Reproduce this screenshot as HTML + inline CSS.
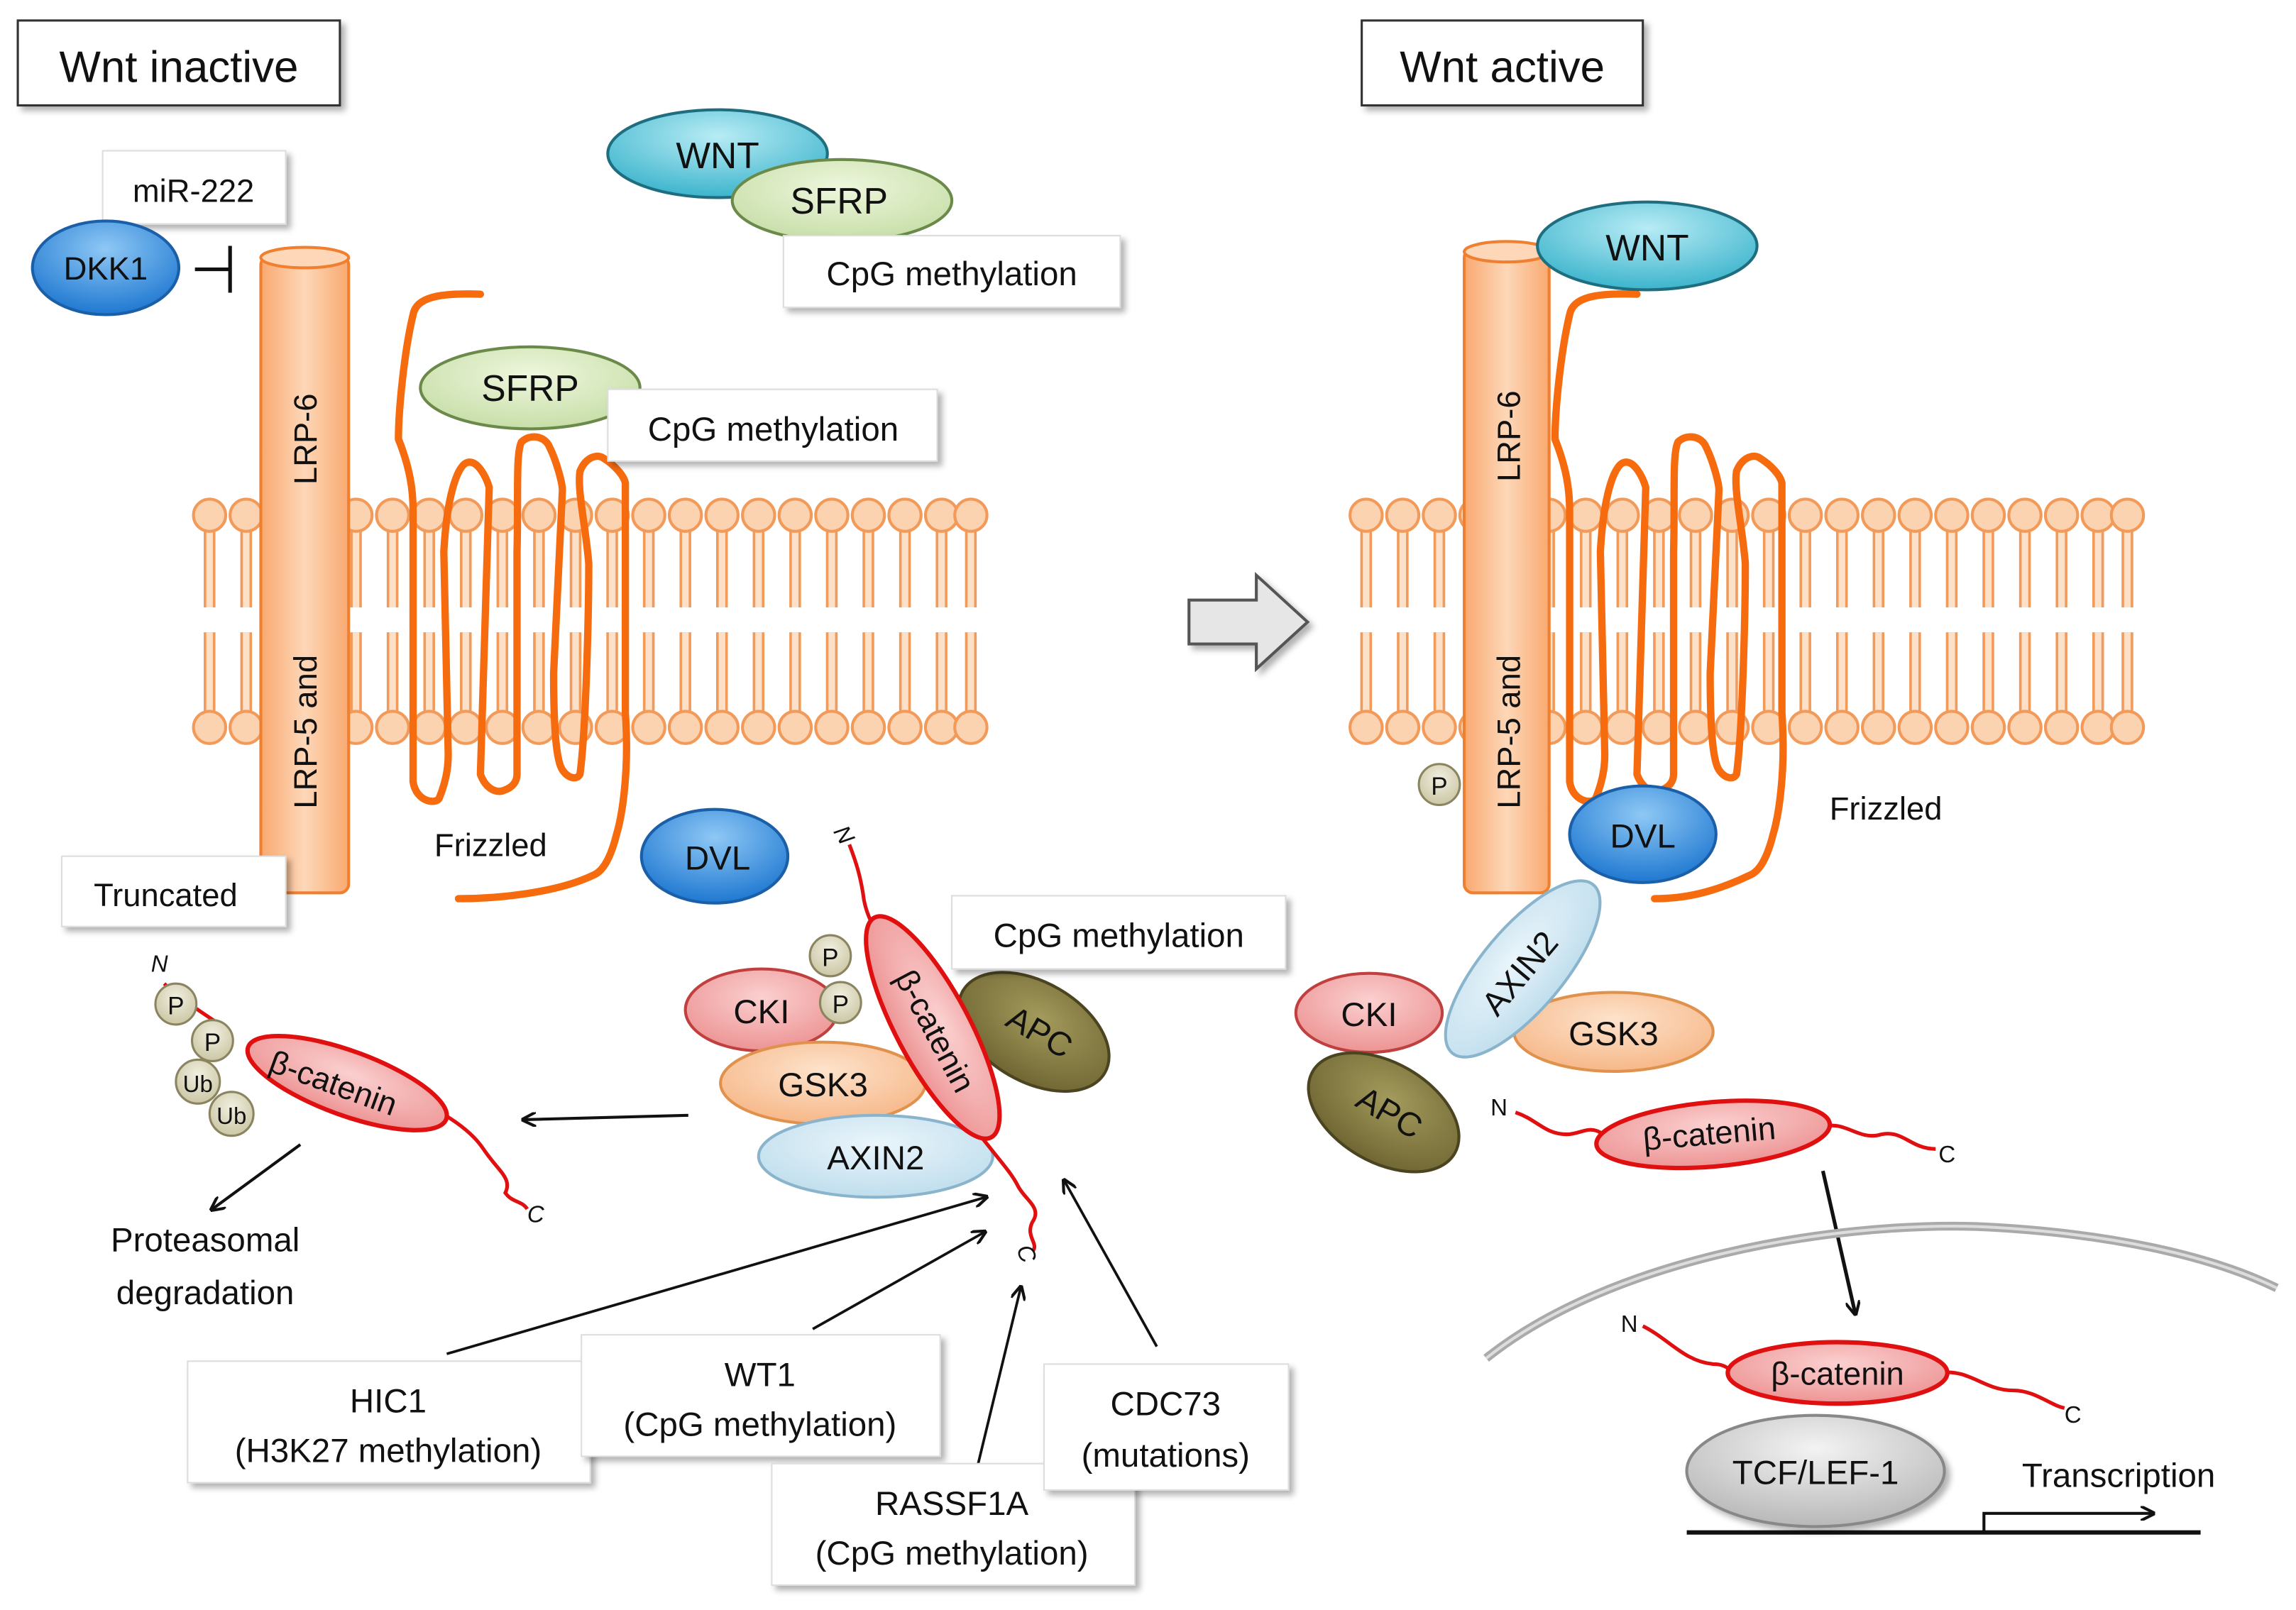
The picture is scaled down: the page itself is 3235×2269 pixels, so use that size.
<!DOCTYPE html>
<html><head><meta charset="utf-8">
<style>
html,body{margin:0;padding:0;background:#fff;}
svg{display:block;}
text{font-family:"Liberation Sans",sans-serif;fill:#111;}
</style></head>
<body>
<svg width="3235" height="2269" viewBox="0 0 1568 1100" xmlns="http://www.w3.org/2000/svg">
<defs>
<radialGradient id="gBlue" cx="50%" cy="30%" r="70%"><stop offset="0" stop-color="#8ec8f5"/><stop offset="1" stop-color="#1f78d1"/></radialGradient>
<radialGradient id="gTeal" cx="50%" cy="30%" r="70%"><stop offset="0" stop-color="#b8ecf5"/><stop offset="1" stop-color="#3cb4cc"/></radialGradient>
<radialGradient id="gGreen" cx="50%" cy="35%" r="70%"><stop offset="0" stop-color="#eef7dd"/><stop offset="1" stop-color="#c4dca4"/></radialGradient>
<radialGradient id="gPink" cx="50%" cy="35%" r="70%"><stop offset="0" stop-color="#fbd0d0"/><stop offset="1" stop-color="#ec8f8f"/></radialGradient>
<radialGradient id="gOr" cx="50%" cy="35%" r="70%"><stop offset="0" stop-color="#fde3cc"/><stop offset="1" stop-color="#f6b483"/></radialGradient>
<radialGradient id="gLb" cx="50%" cy="35%" r="70%"><stop offset="0" stop-color="#eaf5fb"/><stop offset="1" stop-color="#bcdcec"/></radialGradient>
<radialGradient id="gOl" cx="50%" cy="35%" r="70%"><stop offset="0" stop-color="#a39a5c"/><stop offset="1" stop-color="#6b6230"/></radialGradient>
<radialGradient id="gGr" cx="50%" cy="30%" r="70%"><stop offset="0" stop-color="#f3f3f3"/><stop offset="1" stop-color="#b8b8b8"/></radialGradient>
<radialGradient id="gP" cx="50%" cy="35%" r="70%"><stop offset="0" stop-color="#f1efe0"/><stop offset="1" stop-color="#c8c3a0"/></radialGradient>
<linearGradient id="gCyl" x1="0" x2="1"><stop offset="0" stop-color="#f9a970"/><stop offset="0.5" stop-color="#fdd7b8"/><stop offset="1" stop-color="#f9a970"/></linearGradient>
<filter id="sh" x="-10%" y="-10%" width="130%" height="140%"><feDropShadow dx="3" dy="3" stdDeviation="2" flood-color="#000" flood-opacity="0.3"/></filter>
<marker id="ar" markerWidth="10" markerHeight="10" refX="8" refY="5" orient="auto" markerUnits="userSpaceOnUse"><path d="M0,0 L10,5 L0,10" fill="none" stroke="#111" stroke-width="2"/></marker>
<g id="mem">
  <g id="lip">
    <line x1="0" y1="352" x2="0" y2="415" stroke="#f29a5a" stroke-width="8"/>
    <line x1="0" y1="352" x2="0" y2="415" stroke="#fde0c8" stroke-width="4.5"/>
    <line x1="0" y1="432" x2="0" y2="497" stroke="#f29a5a" stroke-width="8"/>
    <line x1="0" y1="432" x2="0" y2="497" stroke="#fde0c8" stroke-width="4.5"/>
    <circle cx="0" cy="352" r="11" fill="#fcd3b1" stroke="#f29a5a" stroke-width="2"/>
    <circle cx="0" cy="497" r="11" fill="#fcd3b1" stroke="#f29a5a" stroke-width="2"/>
  </g>
</g>
</defs>

<!-- membranes -->
<g>
<use href="#lip" x="143"/><use href="#lip" x="168"/><use href="#lip" x="193"/><use href="#lip" x="218"/><use href="#lip" x="243"/><use href="#lip" x="268"/><use href="#lip" x="293"/><use href="#lip" x="318"/><use href="#lip" x="343"/><use href="#lip" x="368"/><use href="#lip" x="393"/><use href="#lip" x="418"/><use href="#lip" x="443"/><use href="#lip" x="468"/><use href="#lip" x="493"/><use href="#lip" x="518"/><use href="#lip" x="543"/><use href="#lip" x="568"/><use href="#lip" x="593"/><use href="#lip" x="618"/><use href="#lip" x="643"/><use href="#lip" x="663"/>
</g>
<g>
<use href="#lip" x="933"/><use href="#lip" x="958"/><use href="#lip" x="983"/><use href="#lip" x="1008"/><use href="#lip" x="1033"/><use href="#lip" x="1058"/><use href="#lip" x="1083"/><use href="#lip" x="1108"/><use href="#lip" x="1133"/><use href="#lip" x="1158"/><use href="#lip" x="1183"/><use href="#lip" x="1208"/><use href="#lip" x="1233"/><use href="#lip" x="1258"/><use href="#lip" x="1283"/><use href="#lip" x="1308"/><use href="#lip" x="1333"/><use href="#lip" x="1358"/><use href="#lip" x="1383"/><use href="#lip" x="1408"/><use href="#lip" x="1433"/><use href="#lip" x="1453"/>
</g>

<!-- titles -->
<rect x="12" y="14" width="220" height="58" fill="#fff" stroke="#333" stroke-width="1.5" filter="url(#sh)"/>
<text x="122" y="56" font-size="30" text-anchor="middle">Wnt inactive</text>
<rect x="930" y="14" width="192" height="58" fill="#fff" stroke="#333" stroke-width="1.5" filter="url(#sh)"/>
<text x="1026" y="56" font-size="30" text-anchor="middle">Wnt active</text>

<!-- left top -->
<rect x="70" y="103" width="125" height="50" fill="#fff" stroke="#ddd" filter="url(#sh)"/>
<text x="132" y="138" font-size="22" text-anchor="middle">miR-222</text>
<ellipse cx="72" cy="183" rx="50" ry="32" fill="url(#gBlue)" stroke="#1a5fa8" stroke-width="2"/>
<text x="72" y="191" font-size="22" text-anchor="middle">DKK1</text>
<line x1="133" y1="184" x2="157" y2="184" stroke="#111" stroke-width="2.5"/>
<line x1="157" y1="168" x2="157" y2="200" stroke="#111" stroke-width="2.5"/>

<!-- LRP left -->
<rect x="178" y="175" width="60" height="435" rx="6" fill="url(#gCyl)" stroke="#f07f30" stroke-width="2"/>
<ellipse cx="208" cy="176" rx="30" ry="7" fill="#fdd7b8" stroke="#f07f30" stroke-width="2"/>
<text transform="translate(216,300) rotate(-90)" font-size="22" text-anchor="middle">LRP-6</text>
<text transform="translate(216,500) rotate(-90)" font-size="22" text-anchor="middle">LRP-5 and</text>

<!-- Frizzled left -->
<path id="fz" d="M328,201 C300,200 284,203 282,215 C276,240 272,280 272,300 C280,320 282,335 282,349 L282,534 C284,548 298,550 300,545 C306,530 306,520 306,515 L303,377 C305,340 312,318 319,316 C326,314 332,326 334,333 L328,529 C332,540 340,542 344,540 C350,538 353,534 353,529 L353,377 C354,340 352,310 356,302 C362,296 372,298 375,305 C380,315 384,330 384,335 L378,460 C378,500 380,520 384,526 C388,532 394,533 396,529 C400,500 402,420 402,385 C400,360 394,335 396,322 C400,312 408,310 412,313 C420,318 426,325 427,330 L427,487 C430,530 424,560 421,570 C416,590 410,596 405,598 C380,610 340,614 313,614" fill="none" stroke="#f66b0e" stroke-width="5" stroke-linejoin="round" stroke-linecap="round"/>

<ellipse cx="362" cy="265" rx="75" ry="28" fill="url(#gGreen)" stroke="#6b8a4a" stroke-width="2"/>
<text x="362" y="274" font-size="25" text-anchor="middle">SFRP</text>
<rect x="415" y="266" width="225" height="49" fill="#fff" stroke="#ddd" filter="url(#sh)"/>
<text x="528" y="301" font-size="23" text-anchor="middle">CpG methylation</text>

<ellipse cx="490" cy="105" rx="75" ry="30" fill="url(#gTeal)" stroke="#1f6e80" stroke-width="2"/>
<text x="490" y="115" font-size="25" text-anchor="middle">WNT</text>
<ellipse cx="575" cy="137" rx="75" ry="28" fill="url(#gGreen)" stroke="#6b8a4a" stroke-width="2"/>
<text x="573" y="146" font-size="25" text-anchor="middle">SFRP</text>
<rect x="535" y="161" width="230" height="49" fill="#fff" stroke="#ddd" filter="url(#sh)"/>
<text x="650" y="195" font-size="23" text-anchor="middle">CpG methylation</text>

<text x="335" y="585" font-size="22" text-anchor="middle">Frizzled</text>
<ellipse cx="488" cy="585" rx="50" ry="32" fill="url(#gBlue)" stroke="#1a5fa8" stroke-width="2"/>
<text x="490" y="594" font-size="23" text-anchor="middle">DVL</text>
<rect x="42" y="585" width="153" height="48" fill="#fff" stroke="#ddd" filter="url(#sh)"/>
<text x="113" y="619" font-size="22" text-anchor="middle">Truncated</text>

<!-- degraded beta-catenin -->
<path d="M172,717 C200,720 230,730 270,745 C300,758 320,770 330,785 C340,800 350,805 345,815 C350,822 356,820 360,826" fill="none" stroke="#e01010" stroke-width="2.5"/>
<text x="103" y="664" font-size="16" font-style="italic">N</text>
<path d="M112,672 C120,680 135,690 150,700" fill="none" stroke="#e01010" stroke-width="2.5"/>
<ellipse cx="237" cy="740" rx="72" ry="22" transform="rotate(20 237 740)" fill="url(#gPink)" stroke="#e01010" stroke-width="3"/>
<text transform="translate(225,747) rotate(20)" font-size="22" text-anchor="middle">β-catenin</text>
<circle cx="120" cy="686" r="14" fill="url(#gP)" stroke="#8a8460" stroke-width="1.5"/><text x="120" y="693" font-size="17" text-anchor="middle">P</text>
<circle cx="145" cy="711" r="14" fill="url(#gP)" stroke="#8a8460" stroke-width="1.5"/><text x="145" y="718" font-size="17" text-anchor="middle">P</text>
<circle cx="135" cy="739" r="15" fill="url(#gP)" stroke="#8a8460" stroke-width="1.5"/><text x="135" y="746" font-size="16" text-anchor="middle">Ub</text>
<circle cx="158" cy="761" r="15" fill="url(#gP)" stroke="#8a8460" stroke-width="1.5"/><text x="158" y="768" font-size="16" text-anchor="middle">Ub</text>
<text x="360" y="835" font-size="16" font-style="italic">C</text>
<line x1="470" y1="762" x2="358" y2="765" stroke="#111" stroke-width="2" marker-end="url(#ar)"/>
<line x1="205" y1="782" x2="145" y2="826" stroke="#111" stroke-width="2" marker-end="url(#ar)"/>
<text x="140" y="855" font-size="23" text-anchor="middle">Proteasomal</text>
<text x="140" y="891" font-size="23" text-anchor="middle">degradation</text>

<!-- destruction complex -->
<path d="M580,577 C585,590 588,600 590,615 C592,625 595,630 600,640" fill="none" stroke="#e01010" stroke-width="2.5"/>
<text x="570" y="578" font-size="16" font-style="italic" transform="rotate(60 578 572)">N</text>
<ellipse cx="520" cy="690" rx="52" ry="28" fill="url(#gPink)" stroke="#c04040" stroke-width="2"/>
<text x="520" y="699" font-size="23" text-anchor="middle">CKI</text>
<ellipse cx="562" cy="740" rx="70" ry="28" fill="url(#gOr)" stroke="#e0924c" stroke-width="2"/>
<text x="562" y="749" font-size="23" text-anchor="middle">GSK3</text>
<ellipse cx="598" cy="790" rx="80" ry="28" fill="url(#gLb)" stroke="#8ab4cc" stroke-width="2"/>
<text x="598" y="799" font-size="23" text-anchor="middle">AXIN2</text>
<ellipse cx="706" cy="705" rx="56" ry="34" transform="rotate(30 706 705)" fill="url(#gOl)" stroke="#4a4420" stroke-width="2"/>
<text transform="translate(706,712) rotate(30)" font-size="23" text-anchor="middle">APC</text>
<path d="M665,770 C680,790 690,800 695,810 C700,820 712,825 705,835 C700,845 710,850 705,855" fill="none" stroke="#e01010" stroke-width="2.5"/>
<ellipse cx="637" cy="702" rx="85" ry="25" transform="rotate(62 637 702)" fill="url(#gPink)" stroke="#e01010" stroke-width="3"/>
<text transform="translate(632,708) rotate(62)" font-size="22" text-anchor="middle">β-catenin</text>
<circle cx="567" cy="653" r="14" fill="url(#gP)" stroke="#8a8460" stroke-width="1.5"/><text x="567" y="660" font-size="17" text-anchor="middle">P</text>
<circle cx="574" cy="685" r="14" fill="url(#gP)" stroke="#8a8460" stroke-width="1.5"/><text x="574" y="692" font-size="17" text-anchor="middle">P</text>
<text x="696" y="860" font-size="16" font-style="italic" transform="rotate(70 700 855)">C</text>
<rect x="650" y="612" width="228" height="50" fill="#fff" stroke="#ddd" filter="url(#sh)"/>
<text x="764" y="647" font-size="23" text-anchor="middle">CpG methylation</text>

<!-- regulator arrows -->
<line x1="305" y1="925" x2="673" y2="818" stroke="#111" stroke-width="1.8" marker-end="url(#ar)"/>
<line x1="555" y1="908" x2="672" y2="842" stroke="#111" stroke-width="1.8" marker-end="url(#ar)"/>
<line x1="668" y1="1000" x2="697" y2="880" stroke="#111" stroke-width="1.8" marker-end="url(#ar)"/>
<line x1="790" y1="920" x2="727" y2="807" stroke="#111" stroke-width="1.8" marker-end="url(#ar)"/>
<rect x="128" y="930" width="275" height="83" fill="#fff" stroke="#ddd" filter="url(#sh)"/>
<text x="265" y="965" font-size="23" text-anchor="middle">HIC1</text>
<text x="265" y="999" font-size="23" text-anchor="middle">(H3K27 methylation)</text>
<rect x="397" y="912" width="245" height="83" fill="#fff" stroke="#ddd" filter="url(#sh)"/>
<text x="519" y="947" font-size="23" text-anchor="middle">WT1</text>
<text x="519" y="981" font-size="23" text-anchor="middle">(CpG methylation)</text>
<rect x="527" y="1000" width="248" height="83" fill="#fff" stroke="#ddd" filter="url(#sh)"/>
<text x="650" y="1035" font-size="23" text-anchor="middle">RASSF1A</text>
<text x="650" y="1069" font-size="23" text-anchor="middle">(CpG methylation)</text>
<rect x="713" y="932" width="167" height="86" fill="#fff" stroke="#ddd" filter="url(#sh)"/>
<text x="796" y="967" font-size="23" text-anchor="middle">CDC73</text>
<text x="796" y="1002" font-size="23" text-anchor="middle">(mutations)</text>

<!-- big arrow -->
<path d="M812,410 L858,410 L858,393 L893,425 L858,457 L858,440 L812,440 Z" fill="#e6e6e6" stroke="#555" stroke-width="2" filter="url(#sh)"/>

<!-- RIGHT -->
<rect x="1000" y="170" width="58" height="440" rx="6" fill="url(#gCyl)" stroke="#f07f30" stroke-width="2"/>
<ellipse cx="1029" cy="172" rx="29" ry="7" fill="#fdd7b8" stroke="#f07f30" stroke-width="2"/>
<text transform="translate(1038,298) rotate(-90)" font-size="22" text-anchor="middle">LRP-6</text>
<text transform="translate(1038,500) rotate(-90)" font-size="22" text-anchor="middle">LRP-5 and</text>
<circle cx="983" cy="536" r="14" fill="url(#gP)" stroke="#8a8460" stroke-width="1.5"/><text x="983" y="543" font-size="17" text-anchor="middle">P</text>
<g transform="translate(790,0)">
<path d="M328,201 C300,200 284,203 282,215 C276,240 272,280 272,300 C280,320 282,335 282,349 L282,534 C284,548 298,550 300,545 C306,530 306,520 306,515 L303,377 C305,340 312,318 319,316 C326,314 332,326 334,333 L328,529 C332,540 340,542 344,540 C350,538 353,534 353,529 L353,377 C354,340 352,310 356,302 C362,296 372,298 375,305 C380,315 384,330 384,335 L378,460 C378,500 380,520 384,526 C388,532 394,533 396,529 C400,500 402,420 402,385 C400,360 394,335 396,322 C400,312 408,310 412,313 C420,318 426,325 427,330 L427,487 C430,530 424,560 421,570 C416,590 410,596 405,598 C380,610 360,614 340,614" fill="none" stroke="#f66b0e" stroke-width="5" stroke-linejoin="round" stroke-linecap="round"/>
</g>
<ellipse cx="1125" cy="168" rx="75" ry="30" fill="url(#gTeal)" stroke="#1f6e80" stroke-width="2"/>
<text x="1125" y="178" font-size="25" text-anchor="middle">WNT</text>
<text x="1288" y="560" font-size="22" text-anchor="middle">Frizzled</text>
<ellipse cx="1122" cy="570" rx="50" ry="33" fill="url(#gBlue)" stroke="#1a5fa8" stroke-width="2"/>
<text x="1122" y="579" font-size="23" text-anchor="middle">DVL</text>

<ellipse cx="1102" cy="705" rx="68" ry="27" fill="url(#gOr)" stroke="#e0924c" stroke-width="2"/>
<text x="1102" y="714" font-size="23" text-anchor="middle">GSK3</text>
<ellipse cx="1040" cy="662" rx="75" ry="28" transform="rotate(-50 1040 662)" fill="url(#gLb)" stroke="#8ab4cc" stroke-width="2"/>
<text transform="translate(1044,670) rotate(-50)" font-size="23" text-anchor="middle">AXIN2</text>
<ellipse cx="935" cy="692" rx="50" ry="27" fill="url(#gPink)" stroke="#c04040" stroke-width="2"/>
<text x="935" y="701" font-size="23" text-anchor="middle">CKI</text>
<ellipse cx="945" cy="760" rx="56" ry="34" transform="rotate(30 945 760)" fill="url(#gOl)" stroke="#4a4420" stroke-width="2"/>
<text transform="translate(945,767) rotate(30)" font-size="23" text-anchor="middle">APC</text>

<text x="1018" y="762" font-size="16">N</text>
<path d="M1035,760 C1050,765 1055,775 1070,775 C1080,775 1085,768 1095,775" fill="none" stroke="#e01010" stroke-width="2.5"/>
<path d="M1245,770 C1260,765 1270,780 1285,775 C1300,772 1305,785 1322,785" fill="none" stroke="#e01010" stroke-width="2.5"/>
<ellipse cx="1170" cy="775" rx="80" ry="22" transform="rotate(-5 1170 775)" fill="url(#gPink)" stroke="#e01010" stroke-width="3"/>
<text transform="translate(1168,782) rotate(-5)" font-size="22" text-anchor="middle">β-catenin</text>
<text x="1324" y="794" font-size="16">C</text>
<line x1="1245" y1="800" x2="1267" y2="897" stroke="#111" stroke-width="2.5" marker-end="url(#ar)"/>

<!-- nucleus -->
<path d="M1015,928 C1100,860 1250,835 1350,838 C1440,842 1510,858 1555,880" fill="none" stroke="#aaa" stroke-width="6"/>
<path d="M1015,928 C1100,860 1250,835 1350,838 C1440,842 1510,858 1555,880" fill="none" stroke="#ddd" stroke-width="2"/>

<text x="1107" y="910" font-size="16">N</text>
<path d="M1122,906 C1140,915 1150,930 1170,932 C1178,932 1180,935 1185,938" fill="none" stroke="#e01010" stroke-width="2.5"/>
<path d="M1325,938 C1345,935 1355,950 1375,950 C1390,950 1400,960 1410,962" fill="none" stroke="#e01010" stroke-width="2.5"/>
<ellipse cx="1255" cy="938" rx="75" ry="21" fill="url(#gPink)" stroke="#e01010" stroke-width="3"/>
<text x="1255" y="946" font-size="22" text-anchor="middle">β-catenin</text>
<text x="1410" y="972" font-size="16">C</text>

<line x1="1152" y1="1047" x2="1503" y2="1047" stroke="#111" stroke-width="3"/>
<ellipse cx="1240" cy="1005" rx="88" ry="38" fill="url(#gGr)" stroke="#888" stroke-width="2" filter="url(#sh)"/>
<text x="1240" y="1014" font-size="23" text-anchor="middle">TCF/LEF-1</text>
<path d="M1355,1047 L1355,1034 L1470,1034" fill="none" stroke="#111" stroke-width="2" marker-end="url(#ar)"/>
<text x="1447" y="1016" font-size="23" text-anchor="middle">Transcription</text>
</svg>
</body></html>
